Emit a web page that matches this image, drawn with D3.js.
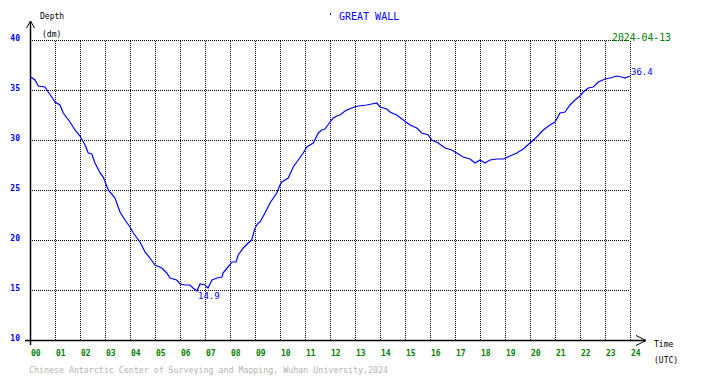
<!DOCTYPE html>
<meta charset="utf-8">
<head>
<style>
body { margin: 0; background: #fff; }
svg text { font-family: "DejaVu Sans Mono", monospace; }
.grid line { stroke: #000; stroke-dasharray: 1,1; shape-rendering: crispEdges; }
.grid path { display: none; }
</style>
</head>
<body>
<script src="https://d3js.org/d3.v7.min.js"></script>
<script>
// station + date
var station = "GREAT WALL";
var dateLabel = "2024-04-13";
var credit = "Chinese Antarctic Center of Surveying and Mapping, Wuhan University,2024";

// tick labels
var hourLabels = ["00","01","02","03","04","05","06","07","08","09","10","11","12",
                  "13","14","15","16","17","18","19","20","21","22","23","24"];
var depthTicks = [10, 15, 20, 25, 30, 35, 40];

// tide series (hours UTC, depth in dm)
var hours = [0.03,0.2,0.33,0.6,0.73,0.87,1.0,1.2,1.33,1.6,1.8,2.0,2.2,2.33,2.47,2.6,2.8,2.93,
  3.13,3.4,3.6,3.8,4.0,4.13,4.4,4.6,4.8,5.0,5.27,5.47,5.6,5.87,6.0,6.2,6.4,6.52,6.68,6.8,
  7.0,7.12,7.28,7.48,7.68,7.72,7.92,8.08,8.24,8.33,8.53,8.73,8.87,9.0,9.13,9.2,9.4,9.6,9.87,
  10.0,10.07,10.33,10.53,10.73,10.93,11.07,11.33,11.53,11.67,11.8,12.0,12.13,12.27,12.4,12.6,
  12.87,13.13,13.47,13.67,13.87,14.0,14.27,14.4,14.67,14.93,15.2,15.47,15.67,15.93,16.07,
  16.33,16.6,16.87,17.07,17.33,17.6,17.8,18.0,18.2,18.4,18.67,18.93,19.2,19.47,19.73,20.0,
  20.27,20.53,20.8,21.0,21.2,21.4,21.6,21.8,22.0,22.13,22.33,22.53,22.73,23.0,23.2,23.47,
  23.67,23.8,24.0];
var depth = [36.3,36.0,35.4,35.3,34.8,34.3,33.8,33.5,32.7,31.8,31.0,30.4,29.5,28.7,28.6,27.7,26.7,26.3,
  25.0,24.2,22.8,22.0,21.3,20.7,19.8,18.8,18.2,17.5,17.2,16.7,16.2,16.0,15.6,15.5,15.5,15.2,14.9,15.6,
  15.5,15.2,16.0,16.2,16.3,16.7,17.3,17.8,17.8,18.5,19.2,19.7,20.0,21.2,21.7,21.8,22.7,23.7,24.7,
  25.5,25.8,26.2,27.3,28.0,28.7,29.3,29.7,30.7,31.0,31.1,31.8,32.2,32.4,32.5,32.9,
  33.2,33.4,33.5,33.6,33.7,33.3,33.1,32.8,32.5,32.0,31.5,31.2,30.7,30.5,30.0,
  29.7,29.2,29.0,28.7,28.3,28.1,27.7,28.0,27.7,28.0,28.1,28.1,28.4,28.7,29.1,29.7,
  30.3,31.0,31.5,31.8,32.7,32.8,33.5,34.0,34.4,34.8,35.2,35.3,35.8,36.1,36.2,36.4,
  36.3,36.2,36.4];

var width = 710, height = 378;
var svg = d3.select("body").append("svg")
    .attr("width", width)
    .attr("height", height);

var x = d3.scaleLinear().domain([0, 24]).range([30, 630]);
var y = d3.scaleLinear().domain([10, 40]).range([340, 40]);

// dotted grid
svg.append("g")
    .attr("class", "grid")
    .attr("transform", "translate(0,340)")
    .call(d3.axisBottom(x).tickValues(d3.range(1, 25)).tickSize(-300).tickFormat(""));
svg.append("g")
    .attr("class", "grid")
    .attr("transform", "translate(30,0)")
    .call(d3.axisLeft(y).tickValues(depthTicks.slice(1)).tickSize(-600).tickFormat(""));

// axes with arrows
svg.append("line").attr("x1", 30.5).attr("x2", 30.5).attr("y1", 21).attr("y2", 345)
    .attr("stroke", "#000").attr("stroke-width", 1.5);
svg.append("path").attr("d", "M26.5,28L30.5,21L34.5,28").attr("fill", "none").attr("stroke", "#000");
svg.append("line").attr("x1", 25).attr("x2", 646).attr("y1", 340.5).attr("y2", 340.5)
    .attr("stroke", "#000").attr("stroke-width", 1.5);
svg.append("path").attr("d", "M636,335.5L646,340.5L636,345.5").attr("fill", "none").attr("stroke", "#000");

// y tick labels
svg.selectAll(".ylab").data(depthTicks).enter().append("text")
    .attr("x", 20).attr("y", function(d) { return y(d) + 1; })
    .attr("text-anchor", "end")
    .attr("fill", "#0000ff").attr("font-weight", "bold").attr("font-size", "8px")
    .text(function(d) { return d; });

// x tick labels
svg.selectAll(".xlab").data(hourLabels).enter().append("text")
    .attr("x", function(d, i) { return x(i) + 1; }).attr("y", 356)
    .attr("fill", "#008000").attr("font-weight", "bold").attr("font-size", "8px")
    .text(function(d) { return d; });

// axis titles
svg.append("text").attr("x", 40).attr("y", 19).attr("font-size", "8px").text("Depth");
svg.append("text").attr("x", 42).attr("y", 37).attr("font-size", "8px").text("(dm)");
svg.append("text").attr("x", 654).attr("y", 347).attr("font-size", "8px").text("Time");
svg.append("text").attr("x", 654).attr("y", 363).attr("font-size", "8px").text("(UTC)");

// title
svg.append("rect").attr("x", 330).attr("y", 13).attr("width", 1).attr("height", 2).attr("fill", "#0000ff");
svg.append("text").attr("x", 339).attr("y", 20).attr("fill", "#0000ff").attr("font-size", "10px").text(station);
svg.append("text").attr("x", 612).attr("y", 41).attr("fill", "#008000").attr("font-size", "11px")
    .attr("textLength", 59).attr("lengthAdjust", "spacingAndGlyphs").text(dateLabel);

// tide line
var pts = hours.map(function(h, i) { return [h, depth[i]]; });
var line = d3.line().x(function(d) { return x(d[0]); }).y(function(d) { return y(d[1]); });
svg.append("path").datum(pts)
    .attr("d", line)
    .attr("fill", "none").attr("stroke", "#0000ff").attr("stroke-width", 1.2);

// min and last value labels
var iMin = d3.minIndex(depth);
svg.append("text").attr("x", x(hours[iMin]) + 1).attr("y", y(depth[iMin]) + 8)
    .attr("fill", "#0000ff").attr("font-size", "9px").text(depth[iMin].toFixed(1));
var iLast = depth.length - 1;
svg.append("text").attr("x", x(hours[iLast]) + 1).attr("y", y(depth[iLast]) - 1)
    .attr("fill", "#0000ff").attr("font-size", "9px").text(depth[iLast].toFixed(1));

// credit
svg.append("text").attr("x", 29).attr("y", 373).attr("fill", "#b4b4b4").attr("font-size", "8px")
    .attr("textLength", 359).attr("lengthAdjust", "spacingAndGlyphs").text(credit);
</script>
</body>
